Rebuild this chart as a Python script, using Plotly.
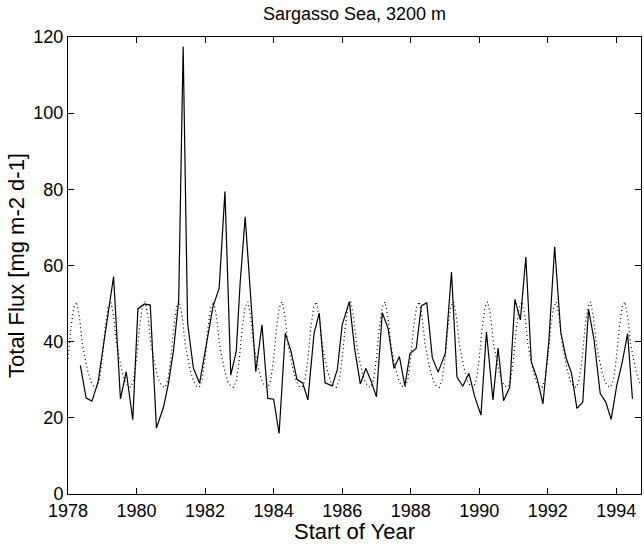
import plotly.graph_objects as go

# Observed total flux (solid line)
flux_years = [
    1978.36, 1978.53, 1978.70, 1978.88, 1979.05, 1979.33, 1979.53, 1979.70, 1979.89,
    1980.04, 1980.23, 1980.40, 1980.58, 1980.79, 1980.93, 1981.08, 1981.23, 1981.36,
    1981.49, 1981.66, 1981.84, 1982.05, 1982.23, 1982.41, 1982.58, 1982.75, 1982.91,
    1983.02, 1983.17, 1983.48, 1983.66, 1983.83, 1984.00, 1984.16, 1984.34, 1984.51,
    1984.68, 1984.85, 1985.00, 1985.18, 1985.33, 1985.50, 1985.71, 1985.86, 1986.00,
    1986.21, 1986.37, 1986.53, 1986.69, 1986.85, 1987.00, 1987.17, 1987.34, 1987.51,
    1987.67, 1987.83, 1987.98, 1988.16, 1988.31, 1988.47, 1988.63, 1988.80, 1989.01,
    1989.19, 1989.35, 1989.52, 1989.70, 1989.87, 1990.05, 1990.21, 1990.40, 1990.55,
    1990.71, 1990.89, 1991.04, 1991.20, 1991.36, 1991.52, 1991.68, 1991.86, 1992.03,
    1992.20, 1992.38, 1992.54, 1992.69, 1992.85, 1993.02, 1993.19, 1993.35, 1993.53,
    1993.69, 1993.85, 1994.01, 1994.17, 1994.33, 1994.47,
]
flux_values = [
    33.8, 25.2, 24.4, 29.5, 40.0, 57.1, 25.0, 32.1, 19.5,
    48.6, 49.9, 49.6, 17.3, 22.9, 29.0, 37.8, 50.9, 117.5,
    44.8, 33.0, 29.1, 40.4, 49.2, 54.0, 79.4, 31.2, 37.5,
    55.0, 72.8, 32.1, 44.4, 25.1, 24.9, 15.9, 42.2, 37.4,
    30.1, 29.1, 24.7, 42.2, 47.5, 29.2, 28.4, 32.7, 44.4,
    50.5, 37.8, 28.9, 33.0, 29.5, 25.5, 47.6, 43.5, 33.0,
    36.1, 28.4, 36.9, 38.2, 49.4, 50.2, 35.8, 32.0, 36.9,
    58.3, 30.7, 28.3, 31.7, 25.5, 20.7, 42.6, 24.7, 38.3,
    24.5, 28.0, 51.1, 45.7, 62.2, 34.6, 30.6, 23.7, 40.0,
    64.9, 42.4, 35.5, 31.8, 22.5, 24.1, 48.5, 40.5, 26.4,
    24.2, 19.6, 28.4, 34.5, 42.1, 25.0,
]

# Seasonal fit (dotted line), monthly readings starting at 1978.0
fit_start = 1978.0
fit_values = [
    35.5, 43.5, 49.0, 50.5, 46.5, 39.5, 35.5, 32.0, 29.5, 28.3, 28.0, 30.0,  # 1978
    35.5, 43.5, 49.0, 50.5, 46.5, 39.5, 35.5, 32.0, 29.5, 28.3, 28.0, 30.0,  # 1979
    35.5, 43.5, 49.0, 50.5, 46.5, 39.5, 35.5, 32.0, 29.5, 28.3, 28.0, 30.0,  # 1980
    35.5, 43.5, 49.0, 50.5, 46.5, 39.5, 35.5, 32.0, 29.5, 28.3, 28.0, 30.0,  # 1981
    35.5, 43.5, 49.0, 50.5, 46.5, 39.5, 35.5, 32.0, 29.5, 28.3, 28.0, 30.0,  # 1982
    35.5, 43.5, 49.0, 50.5, 46.5, 39.5, 35.5, 32.0, 29.5, 28.3, 28.0, 30.0,  # 1983
    35.5, 43.5, 49.0, 50.5, 46.5, 39.5, 35.5, 32.0, 29.5, 28.3, 28.0, 30.0,  # 1984
    35.5, 43.5, 49.0, 50.5, 46.5, 39.5, 35.5, 32.0, 29.5, 28.3, 28.0, 30.0,  # 1985
    35.5, 43.5, 49.0, 50.5, 46.5, 39.5, 35.5, 32.0, 29.5, 28.3, 28.0, 30.0,  # 1986
    35.5, 43.5, 49.0, 50.5, 46.5, 39.5, 35.5, 32.0, 29.5, 28.3, 28.0, 30.0,  # 1987
    35.5, 43.5, 49.0, 50.5, 46.5, 39.5, 35.5, 32.0, 29.5, 28.3, 28.0, 30.0,  # 1988
    35.5, 43.5, 49.0, 50.5, 46.5, 39.5, 35.5, 32.0, 29.5, 28.3, 28.0, 30.0,  # 1989
    35.5, 43.5, 49.0, 50.5, 46.5, 39.5, 35.5, 32.0, 29.5, 28.3, 28.0, 30.0,  # 1990
    35.5, 43.5, 49.0, 50.5, 46.5, 39.5, 35.5, 32.0, 29.5, 28.3, 28.0, 30.0,  # 1991
    35.5, 43.5, 49.0, 50.5, 46.5, 39.5, 35.5, 32.0, 29.5, 28.3, 28.0, 30.0,  # 1992
    35.5, 43.5, 49.0, 50.5, 46.5, 39.5, 35.5, 32.0, 29.5, 28.3, 28.0, 30.0,  # 1993
    35.5, 43.5, 49.0, 50.5, 46.5, 39.5, 35.5, 32.0, 29.5, 28.3, 28.0, 30.0,  # 1994
]
fit_years = [fit_start + i / 12 for i in range(len(fit_values))]

x_ticks = [1978, 1980, 1982, 1984, 1986, 1988, 1990, 1992, 1994]
y_ticks = [0, 20, 40, 60, 80, 100, 120]

title_text = "Sargasso Sea, 3200 m"
x_title = "Start of Year"
y_title = "Total Flux [mg m-2 d-1]"

FONT = "Liberation Sans, Arial, Helvetica, sans-serif"

fig = go.Figure()
fig.add_trace(go.Scatter(
    x=fit_years, y=fit_values, mode="lines",
    line=dict(color="black", width=1.2, dash="1px,3px"),
    hoverinfo="skip", showlegend=False,
))
fig.add_trace(go.Scatter(
    x=flux_years, y=flux_values, mode="lines",
    line=dict(color="black", width=1.2),
    showlegend=False,
))

fig.update_layout(
    width=644, height=544,
    margin=dict(l=68, r=3, t=37, b=50),
    paper_bgcolor="white", plot_bgcolor="white",
    font=dict(family=FONT, size=18, color="black"),
    title=dict(text=title_text, x=(68 + 641) / 2 / 644, xanchor="center",
               y=1 - 14 / 544, yanchor="middle", yref="container",
               font=dict(size=18)),
)
fig.update_xaxes(
    range=[1978, 1994.72], tickmode="array", tickvals=x_ticks,
    ticktext=[str(v) for v in x_ticks],
    ticks="inside", ticklen=6, tickcolor="black", tickwidth=1,
    showline=True, linecolor="black", linewidth=1, mirror="ticks",
    showgrid=False, zeroline=False, automargin=False,
    title=dict(text=x_title, standoff=0),
)
fig.update_yaxes(
    range=[0, 120], tickmode="array", tickvals=y_ticks,
    ticks="inside", ticklen=6, tickcolor="black", tickwidth=1,
    showline=True, linecolor="black", linewidth=1, mirror="ticks",
    showgrid=False, zeroline=False, automargin=False,
    title=dict(text=y_title, standoff=2),
)

fig.write_html("out.html", config={"displayModeBar": False},
               post_script="document.body.style.margin='0';")
